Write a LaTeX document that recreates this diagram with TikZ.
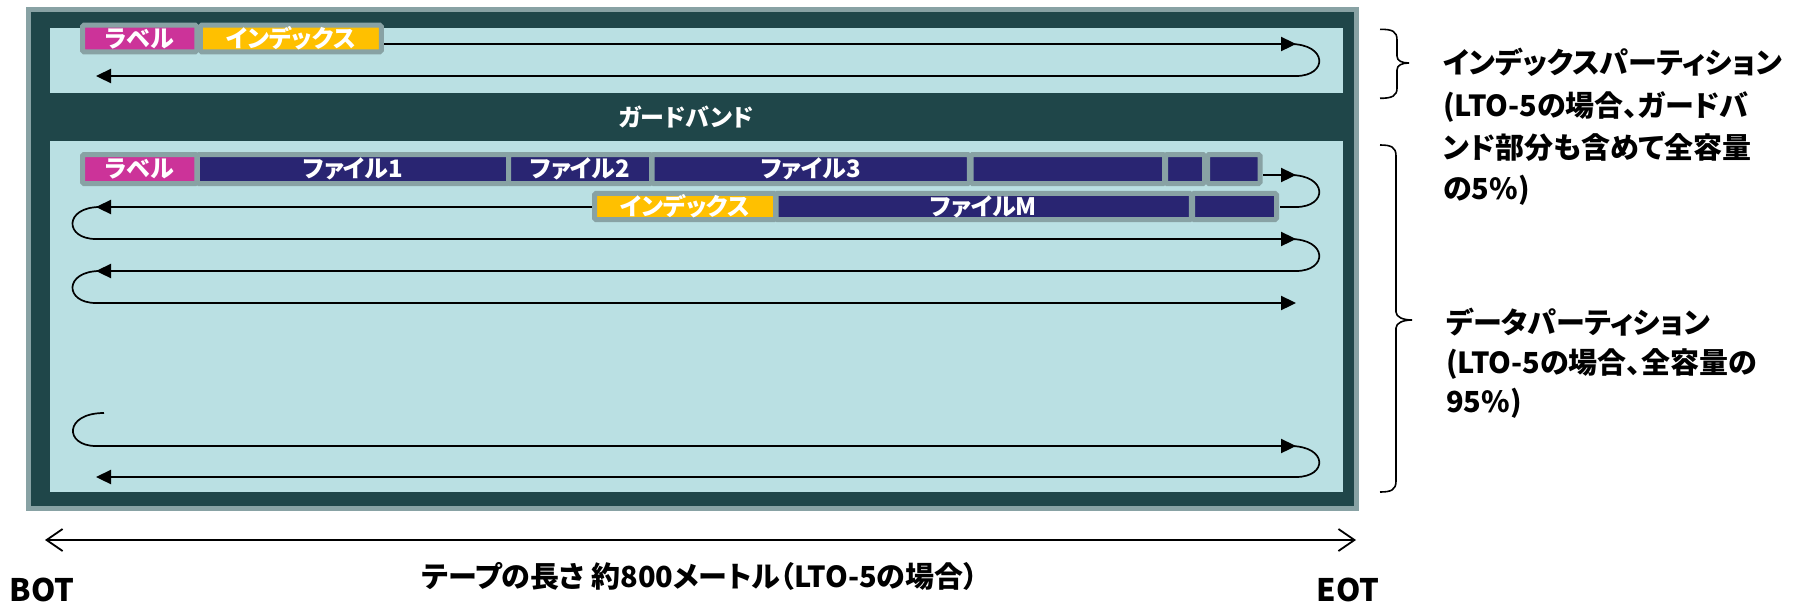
\documentclass[tikz,border=0pt]{standalone}
\usepackage{fontspec}
\usetikzlibrary{arrows.meta}
\newfontfamily\jp{Noto Sans CJK JP}[RawFeature=+palt]
\newcommand\cellfont{\jp\bfseries\fontsize{24}{24}\selectfont}
\newcommand\sidefont{\jp\bfseries\fontsize{29}{29}\selectfont}
\definecolor{tapedark}{RGB}{31,70,73}
\definecolor{tapegrey}{RGB}{136,162,164}
\definecolor{tapelight}{RGB}{186,224,227}
\definecolor{labelmag}{RGB}{204,51,153}
\definecolor{idxyellow}{RGB}{255,192,0}
\definecolor{filenavy}{RGB}{41,37,114}
\begin{document}
\begin{tikzpicture}[x=1pt,y=-1pt,
  cell/.style={draw=tapegrey,line width=5pt,rounded corners=1.5pt,inner sep=0pt,text=white,font=\cellfont},
  track/.style={line width=2.3pt,draw=black},
  fwd/.style={track,-{Triangle[length=15pt,width=14pt]}},
  turn/.style={line width=1.7pt,draw=black},
  brc/.style={line width=1.6pt,draw=black},
  side/.style={anchor=base west,inner sep=0pt,font=\sidefont},
]
\useasboundingbox (0,0) rectangle (1800,603);
% tape frame
\draw[tapegrey,fill=tapedark,line width=5pt] (28,9.8) rectangle (1356.5,508);
\fill[tapelight] (50,27.7) rectangle (1343,92.7);
\fill[tapelight] (50,140.7) rectangle (1343,491.7);
\node[font=\cellfont,text=white] (gb) at (686,117) {ガードバンド};

% index partition cells
\node[cell,fill=labelmag,minimum width=114.4pt,minimum height=26.6pt] (ilab) at (139.7,38.5) {ラベル};
\node[cell,fill=idxyellow,minimum width=181.1pt,minimum height=26.6pt] (iidx) at (290.85,38.5) {インデックス};

% data partition row 1
\node[cell,fill=labelmag,minimum width=114.4pt,minimum height=29pt] (dlab) at (139.7,169) {ラベル};
\node[cell,fill=filenavy,minimum width=311.5pt,minimum height=29pt] (f1) at (353.05,169) {ファイル1};
\node[cell,fill=filenavy,minimum width=143pt,minimum height=29pt] (f2) at (580,169) {ファイル2};
\node[cell,fill=filenavy,minimum width=317.2pt,minimum height=29pt] (f3) at (810.7,169) {ファイル3};
\node[cell,fill=filenavy,minimum width=193.5pt,minimum height=29pt] (f4) at (1067.75,169) {};
\node[cell,fill=filenavy,minimum width=39pt,minimum height=29pt] (f5) at (1185,169) {};
\node[cell,fill=filenavy,minimum width=52.6pt,minimum height=29pt] (f6) at (1233.8,169) {};
% data partition row 2
\node[cell,fill=idxyellow,minimum width=181pt,minimum height=26.3pt] (didx) at (685,206.5) {インデックス};
\node[cell,fill=filenavy,minimum width=415.2pt,minimum height=26.3pt] (fm) at (983.7,206.5) {ファイルM};
\node[cell,fill=filenavy,minimum width=84pt,minimum height=26.3pt] (fn) at (1234.5,206.5) {};

% index tracks
\coordinate (iA) at (384,44);
\coordinate (iB) at (1296,44);
\coordinate (iC) at (1296,76);
\coordinate (iD) at (96,76);
\draw[fwd] (iA) -- (iB);
\draw[turn] (1290,44) .. controls (1328,44) and (1328,76) .. (iC);
\draw[fwd] (iC) -- (iD);

% data tracks
\coordinate (d1a) at (1263,175);
\coordinate (d1b) at (1296,175);
\coordinate (d2a) at (1296,207);
\coordinate (d2b) at (1280,207);
\coordinate (d2c) at (592,207);
\coordinate (d2d) at (96,207);
\coordinate (d3a) at (96,239);
\coordinate (d3b) at (1296,239);
\coordinate (d4a) at (1296,271);
\coordinate (d4b) at (96,271);
\coordinate (d5a) at (96,303);
\coordinate (d5b) at (1296,303);
\coordinate (d6s) at (104,413);
\coordinate (d6a) at (96,446);
\coordinate (d6b) at (1296,446);
\coordinate (d7a) at (1296,477);
\coordinate (d7b) at (96,477);
\draw[fwd] (d1a) -- (d1b);
\draw[turn] (1290,175) .. controls (1328,175) and (1328,207) .. (d2a);
\draw[track] (d2a) -- (d2b);
\draw[fwd] (d2c) -- (d2d);
\draw[turn] (100,207) .. controls (64,207) and (64,239) .. (d3a);
\draw[fwd] (d3a) -- (d3b);
\draw[turn] (1290,239) .. controls (1328,239) and (1328,271) .. (d4a);
\draw[fwd] (d4a) -- (d4b);
\draw[turn] (100,271) .. controls (64,271) and (64,303) .. (d5a);
\draw[fwd] (d5a) -- (d5b);
\draw[turn] (d6s) .. controls (64,413) and (64,446) .. (d6a);
\draw[fwd] (d6a) -- (d6b);
\draw[turn] (1290,446) .. controls (1328,446) and (1328,477) .. (d7a);
\draw[fwd] (d7a) -- (d7b);

% braces
\draw[brc] (1380,29.3) .. controls (1392,29.3) and (1397,31) .. (1397,40) -- (1397,56)
  .. controls (1397,61) and (1402,63) .. (1409,63)
  .. controls (1402,63) and (1397,65) .. (1397,70) -- (1397,88)
  .. controls (1397,96) and (1392,98.3) .. (1380,98.3);
\draw[brc] (1380,145) .. controls (1391,145) and (1396,147) .. (1396,156) -- (1396,312)
  .. controls (1396,317) and (1403,320) .. (1412,320)
  .. controls (1403,320) and (1396,323) .. (1396,328) -- (1396,481)
  .. controls (1396,490) and (1391,492) .. (1380,492);

% side texts
\node[side] (ip1) at (1443,73.5) {インデックスパーティション};
\node[side] (ip2) at (1443,116) {(LTO-5の場合、ガードバ};
\node[side] (ip3) at (1443,158) {ンド部分も含めて全容量};
\node[side] (ip4) at (1443,199.5) {の5\%)};
\node[side] (dp1) at (1446,333) {データパーティション};
\node[side] (dp2) at (1446,373) {(LTO-5の場合、全容量の};
\node[side] (dp3) at (1446,412) {95\%)};

% tape length
\coordinate (bL) at (45,540);
\coordinate (bR) at (1356,540);
\draw[line width=1.8pt,{Straight Barb[length=16pt,width=22pt]}-{Straight Barb[length=16pt,width=22pt]}] (bL) -- (bR);
\node[font=\sidefont] (len) at (700,576) {テープの長さ 約800メートル（LTO-5の場合）};
\node[font=\jp\bfseries\fontsize{31}{31}\selectfont] (bot) at (42,590) {BOT};
\node[font=\jp\bfseries\fontsize{31}{31}\selectfont] (eot) at (1348,590) {EOT};
\end{tikzpicture}
\end{document}
